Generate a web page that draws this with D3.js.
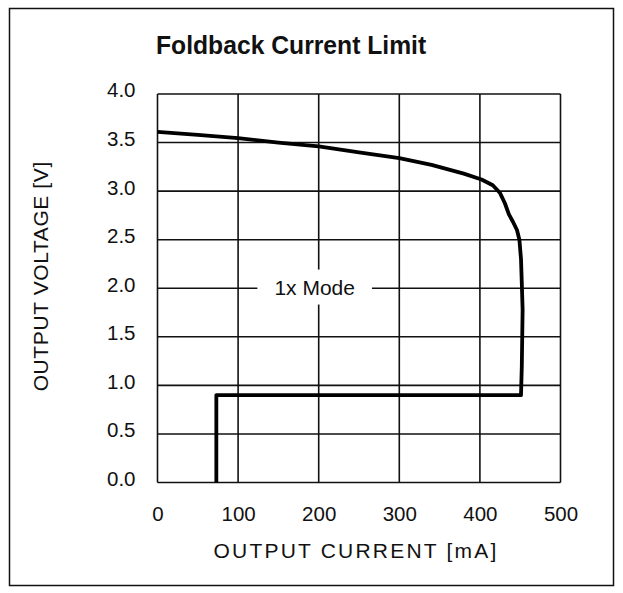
<!DOCTYPE html>
<html>
<head>
<meta charset="utf-8">
<script src="https://cdn.jsdelivr.net/npm/d3@7"></script>
<style>
  html, body { margin: 0; padding: 0; background: #fff; }
  svg { display: block; }
  text { font-family: "Liberation Sans", Arial, sans-serif; fill: #111; }
</style>
</head>
<body>
<script>
// ---- data ----
const xTicks = [0, 100, 200, 300, 400, 500];
const yTicks = [0.0, 0.5, 1.0, 1.5, 2.0, 2.5, 3.0, 3.5, 4.0];
const currentMA = [0, 50, 100, 150, 200, 250, 300, 340, 380, 402, 416, 425, 431, 436, 441, 446, 449, 451, 452, 453, 452, 451, 73, 73];
const voltageV  = [3.61, 3.58, 3.545, 3.50, 3.46, 3.40, 3.34, 3.27, 3.18, 3.12, 3.06, 2.98, 2.875, 2.76, 2.685, 2.60, 2.50, 2.30, 2.05, 1.78, 1.20, 0.90, 0.90, 0.0];
const titleText = "Foldback Current Limit";
const xTitle = "OUTPUT CURRENT [mA]";
const yTitle = "OUTPUT VOLTAGE [V]";
const annotation = { text: "1x Mode", x: 195, y: 2.0 };

// ---- layout ----
const W = 623, H = 593;
const pL = 157.5, pR = 560.5, pT = 94, pB = 482.5;

const svg = d3.select("body").append("svg").attr("width", W).attr("height", H);

// outer frame
svg.append("rect").attr("x", 9.5).attr("y", 8.5).attr("width", 604).attr("height", 577)
  .attr("fill", "none").attr("stroke", "#111").attr("stroke-width", 1.5);

const x = d3.scaleLinear().domain([0, 500]).range([pL, pR]);
const y = d3.scaleLinear().domain([0, 4]).range([pB, pT]);

// grid
const g = svg.append("g");
g.selectAll("line.vx").data(xTicks).join("line")
  .attr("x1", d => x(d)).attr("x2", d => x(d)).attr("y1", pT).attr("y2", pB)
  .attr("stroke", "#111").attr("stroke-width", 1.6);
g.selectAll("line.hy").data(yTicks).join("line")
  .attr("y1", d => y(d)).attr("y2", d => y(d)).attr("x1", pL).attr("x2", pR)
  .attr("stroke", "#111").attr("stroke-width", 1.6);

// axes labels via d3 axes (lines hidden)
const tickFont = 20.5;
const xAxis = svg.append("g").attr("transform", `translate(0,${pB})`)
  .call(d3.axisBottom(x).tickValues(xTicks).tickFormat(d3.format("d")).tickSize(0).tickPadding(24));
const yAxis = svg.append("g").attr("transform", `translate(${pL},0)`)
  .call(d3.axisLeft(y).tickValues(yTicks).tickFormat(d3.format(".1f")).tickSize(0).tickPadding(22));
[xAxis, yAxis].forEach(a => {
  a.select(".domain").remove();
  a.selectAll("text").attr("font-size", tickFont).attr("fill", "#111")
    .style("font-family", '"Liberation Sans", Arial, sans-serif');
});
yAxis.selectAll("text").attr("dy", "0.14em");

// annotation with white background
const ann = svg.append("g");
const annX = x(annotation.x), annY = y(annotation.y);
const annText = ann.append("text").attr("x", annX).attr("y", annY).attr("dy", "0.3em")
  .attr("text-anchor", "middle").attr("font-size", 21).text(annotation.text);
const bb = annText.node().getBBox();
ann.insert("rect", "text").attr("x", bb.x - 17).attr("y", bb.y - 6)
  .attr("width", bb.width + 34).attr("height", bb.height + 12).attr("fill", "#fff");

// curve
const pts = currentMA.map((c, i) => [c, voltageV[i]]);
svg.append("path").datum(pts)
  .attr("d", d3.line().x(d => x(d[0])).y(d => y(d[1])))
  .attr("fill", "none").attr("stroke", "#000").attr("stroke-width", 3.8)
  .attr("stroke-linejoin", "round");

// titles
svg.append("text").attr("transform", `translate(156,54) scale(0.95,1)`)
  .attr("font-size", 26).attr("font-weight", "bold")
  .text(titleText);
svg.append("text").attr("x", (pL + pR) / 2 - 3).attr("y", 558).attr("text-anchor", "middle")
  .attr("font-size", 21).attr("letter-spacing", 2.2).text(xTitle);
svg.append("text").attr("transform", `translate(48,${(pT + pB) / 2 - 12}) rotate(-90)`)
  .attr("text-anchor", "middle").attr("font-size", 21).attr("letter-spacing", 0.6).text(yTitle);
</script>
</body>
</html>
